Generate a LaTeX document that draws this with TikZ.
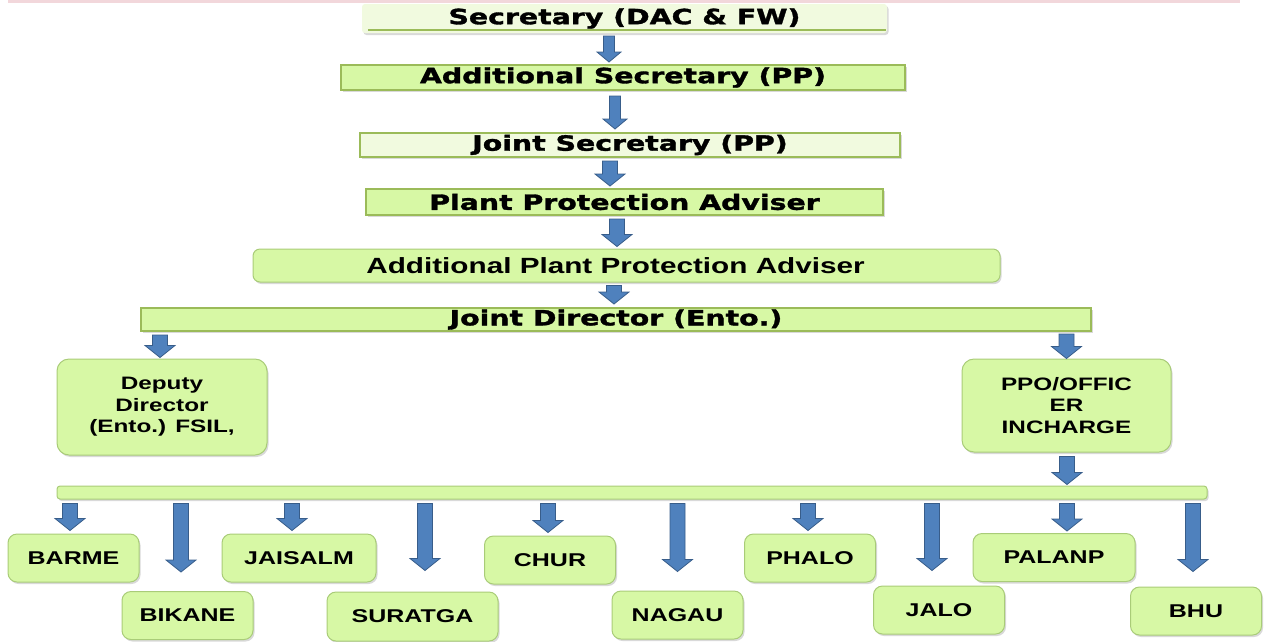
\documentclass[tikz,border=0pt]{standalone}
\usepackage{fontspec}
\setmainfont{Liberation Sans}
\newfontfamily\heavyfont[FakeStretch=1.35, BoldFeatures={FakeBold=1.6}]{DejaVu Sans}
\newfontfamily\labelfont[FakeStretch=1.35]{Liberation Sans}
\usetikzlibrary{calc,shadows}

\definecolor{boxgreen}{HTML}{D7F8A5}
\definecolor{palegreen}{HTML}{F1FADF}
\definecolor{boxedge}{HTML}{9BBB59}
\definecolor{softedge}{HTML}{A9CC78}
\definecolor{arrowblue}{HTML}{4F81BD}
\definecolor{arrowedge}{HTML}{385D8A}
\definecolor{bandpink}{HTML}{F2D7DB}

\tikzset{
  arrowshaft/.store in=\arrshaft, arrowshaft=7.5pt,
  arrowhead/.store in=\arrhead, arrowhead=15pt,
  arrowtip/.store in=\arrtip, arrowtip=12pt,
  blockarrow/.style={fill=arrowblue, draw=arrowedge, line width=0.8pt,
    to path={let \p1=(\tikztostart), \p2=(\tikztotarget) in
      (\x1-\arrshaft,\y1) -- (\x1-\arrshaft,\y2+\arrtip) -- (\x1-\arrhead,\y2+\arrtip)
      -- (\x1,\y2) -- (\x1+\arrhead,\y2+\arrtip) -- (\x1+\arrshaft,\y2+\arrtip)
      -- (\x1+\arrshaft,\y1) -- cycle}},
  thinarrow/.style={blockarrow, arrowshaft=5.5pt, arrowhead=12pt, arrowtip=10pt},
  shade/.style={drop shadow={shadow xshift=1.5pt, shadow yshift=-2pt, opacity=0.3}},
  tier/.style={draw=boxedge, line width=2pt, fill=boxgreen, inner sep=0pt, shade,
    font=\heavyfont\bfseries\fontsize{21}{21}\selectfont},
  office/.style={draw=softedge, line width=1pt, fill=boxgreen, inner sep=0pt,
    rounded corners=12pt, shade, align=center,
    font=\labelfont\bfseries\fontsize{18}{21.5}\selectfont},
  station/.style={office, rounded corners=9pt, minimum width=131pt, minimum height=48pt,
    font=\labelfont\bfseries\fontsize{18.5}{21.5}\selectfont}
}

\begin{document}
\begin{tikzpicture}[x=1pt, y=-1pt]
  \useasboundingbox (0,0) rectangle (1265,641);
  \fill[bandpink] (8,0) rectangle (1240,2.5);

  \node[tier, draw=none, fill=palegreen, rounded corners=3pt,
    minimum width=525pt, minimum height=29pt] (sec) at (624.5,18.5) {Secretary (DAC \& FW)};
  \draw[boxedge, line width=2pt] ([xshift=7pt,yshift=4pt]sec.south west)
    -- ([xshift=-2pt,yshift=4pt]sec.south east);
  \node[tier, minimum width=564pt, minimum height=25pt] (addlsec) at (623,77.5) {Additional Secretary (PP)};
  \node[tier, fill=palegreen, minimum width=540pt, minimum height=24pt] (jointsec) at (630,145) {Joint Secretary (PP)};
  \node[tier, minimum width=517pt, minimum height=26pt] (ppa) at (624.5,202) {Plant Protection Adviser};
  \node[office, rounded corners=7pt, minimum width=747pt, minimum height=33pt,
    font=\labelfont\bfseries\fontsize{22}{22}\selectfont] (appa) at (626.5,265.5)
    {Additional Plant Protection Adviser\hspace*{22pt}};
  \node[tier, minimum width=950pt, minimum height=23pt] (jd) at (616,319.5) {Joint Director (Ento.)};

  \node[office, minimum width=210pt, minimum height=96pt] (dd) at (162,407)
    {Deputy\\Director\\(Ento.) FSIL,};
  \node[office, minimum width=209pt, minimum height=93pt] (ppo) at (1066.5,405.5)
    {PPO/OFFIC\\ER\\INCHARGE};
  \node[office, rounded corners=3pt, minimum width=1150pt, minimum height=13pt] (rail) at (632,492.5) {};

  \node[station] (barme) at (73.5,558) {BARME};
  \node[station] (bikane) at (187.5,615.5) {BIKANE};
  \node[station, minimum width=154pt] (jaisalm) at (299,558) {JAISALM};
  \node[station, minimum width=171pt, minimum height=49pt] (suratga) at (412.5,616.5) {SURATGA};
  \node[station] (chur) at (550,560) {CHUR};
  \node[station] (nagau) at (677.5,615) {NAGAU};
  \node[station] (phalo) at (810,558) {PHALO};
  \node[station] (jalo) at (939,610) {JALO};
  \node[station, minimum width=162pt] (palanp) at (1054,557.5) {PALANP};
  \node[station] (bhu) at (1196,611) {BHU};

  \path[thinarrow] ([xshift=-15.5pt,yshift=-2pt]sec.south) to ([yshift=2pt]addlsec.north);
  \path[thinarrow] ([xshift=-8pt,yshift=-5pt]addlsec.south) to ([yshift=3pt]jointsec.north);
  \path[blockarrow] ([xshift=-20pt,yshift=-3pt]jointsec.south) to ([yshift=2pt]ppa.north);
  \path[blockarrow] ([xshift=-7.5pt,yshift=-3pt]ppa.south) to ([yshift=2pt]appa.north);
  \path[blockarrow] ([xshift=-12.5pt,yshift=-3pt]appa.south) to ([yshift=3pt]jd.north);
  \path[blockarrow] ([xshift=-2pt,yshift=-3pt]dd.north |- jd.south) to ([yshift=1pt]dd.north);
  \path[blockarrow] ([yshift=-2pt]ppo.north |- jd.south) to (ppo.north);
  \path[blockarrow] ([xshift=0.5pt,yshift=-4pt]ppo.south) to ([yshift=1pt]rail.north);

  \foreach \stn/\dx/\gap in {barme/-3.5/3, bikane/-6.5/19, jaisalm/-7/3, suratga/12.5/21,
      chur/-2/3, nagau/0/19, phalo/-2/3, jalo/-7/15, palanp/13/2, bhu/-3/15}
    \path[blockarrow] ([xshift=\dx pt,yshift=-4pt]\stn.north |- rail.south)
      to ([yshift=\gap pt]\stn.north);
\end{tikzpicture}
\end{document}
